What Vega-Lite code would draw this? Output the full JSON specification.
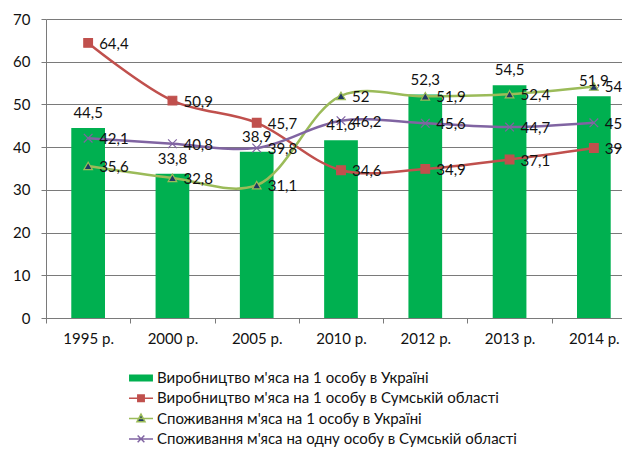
{
  "$schema": "https://vega.github.io/schema/vega-lite/v6.json",
  "autosize": "none",
  "width": 576,
  "height": 299,
  "padding": {"left": 46, "top": 19, "right": 0, "bottom": 132},
  "config": {
    "locale": {"number": {"decimal": ",", "thousands": " ", "grouping": [3], "currency": ["", ""]}},
    "view": {"stroke": null},
    "font": "Lato",
    "legend": {"rowPadding": 3.3}
  },
  "data": {
    "values": [
      {"year": "1995 р.", "series": "Виробництво м'яса на 1 особу в Україні", "value": 44.5},
      {"year": "2000 р.", "series": "Виробництво м'яса на 1 особу в Україні", "value": 33.8},
      {"year": "2005 р.", "series": "Виробництво м'яса на 1 особу в Україні", "value": 38.9},
      {"year": "2010 р.", "series": "Виробництво м'яса на 1 особу в Україні", "value": 41.6},
      {"year": "2012 р.", "series": "Виробництво м'яса на 1 особу в Україні", "value": 52.3},
      {"year": "2013 р.", "series": "Виробництво м'яса на 1 особу в Україні", "value": 54.5},
      {"year": "2014 р.", "series": "Виробництво м'яса на 1 особу в Україні", "value": 51.9},
      {"year": "1995 р.", "series": "Виробництво м'яса на 1 особу в Сумській області", "value": 64.4},
      {"year": "2000 р.", "series": "Виробництво м'яса на 1 особу в Сумській області", "value": 50.9},
      {"year": "2005 р.", "series": "Виробництво м'яса на 1 особу в Сумській області", "value": 45.7},
      {"year": "2010 р.", "series": "Виробництво м'яса на 1 особу в Сумській області", "value": 34.6},
      {"year": "2012 р.", "series": "Виробництво м'яса на 1 особу в Сумській області", "value": 34.9},
      {"year": "2013 р.", "series": "Виробництво м'яса на 1 особу в Сумській області", "value": 37.1},
      {"year": "2014 р.", "series": "Виробництво м'яса на 1 особу в Сумській області", "value": 39.8},
      {"year": "1995 р.", "series": "Споживання м'яса на 1 особу в Україні", "value": 35.6},
      {"year": "2000 р.", "series": "Споживання м'яса на 1 особу в Україні", "value": 32.8},
      {"year": "2005 р.", "series": "Споживання м'яса на 1 особу в Україні", "value": 31.1},
      {"year": "2010 р.", "series": "Споживання м'яса на 1 особу в Україні", "value": 52},
      {"year": "2012 р.", "series": "Споживання м'яса на 1 особу в Україні", "value": 51.9},
      {"year": "2013 р.", "series": "Споживання м'яса на 1 особу в Україні", "value": 52.4},
      {"year": "2014 р.", "series": "Споживання м'яса на 1 особу в Україні", "value": 54.2},
      {"year": "1995 р.", "series": "Споживання м'яса на одну особу в Сумській області", "value": 42.1},
      {"year": "2000 р.", "series": "Споживання м'яса на одну особу в Сумській області", "value": 40.8},
      {"year": "2005 р.", "series": "Споживання м'яса на одну особу в Сумській області", "value": 39.8},
      {"year": "2010 р.", "series": "Споживання м'яса на одну особу в Сумській області", "value": 46.2},
      {"year": "2012 р.", "series": "Споживання м'яса на одну особу в Сумській області", "value": 45.6},
      {"year": "2013 р.", "series": "Споживання м'яса на одну особу в Сумській області", "value": 44.7},
      {"year": "2014 р.", "series": "Споживання м'яса на одну особу в Сумській області", "value": 45.7}
    ]
  },
  "encoding": {
    "x": {
      "field": "year", "type": "nominal", "sort": null,
      "scale": {"range": [0, 590], "paddingInner": 0, "paddingOuter": 0},
      "axis": {
        "title": null, "labelAngle": 0, "labelFont": "Lato", "labelFontSize": 15, "labelColor": "#111111",
        "domainColor": "#7a7a7a", "tickColor": "#7a7a7a", "tickSize": 5, "tickBand": "extent",
        "labelPadding": 8, "grid": false
      }
    },
    "y": {
      "field": "value", "type": "quantitative",
      "scale": {"domain": [0, 70], "nice": false},
      "axis": {
        "title": null, "values": [0, 10, 20, 30, 40, 50, 60, 70],
        "labelFont": "Lato", "labelFontSize": 15, "labelColor": "#111111", "labelPadding": 11,
        "domainColor": "#7a7a7a", "tickColor": "#7a7a7a", "tickSize": 5,
        "grid": true, "gridColor": "#7a7a7a", "gridWidth": 1
      }
    }
  },
  "resolve": {"scale": {"shape": "independent", "fill": "independent", "stroke": "independent"}},
  "layer": [
    {
      "transform": [{"filter": {"field": "series", "equal": "Виробництво м'яса на 1 особу в Україні"}}],
      "mark": {"type": "bar", "color": "#00B050", "width": {"band": 0.4}}
    },
    {
      "transform": [{"filter": {"not": {"field": "series", "equal": "Виробництво м'яса на 1 особу в Україні"}}}],
      "mark": {"type": "line", "interpolate": "catmull-rom", "strokeWidth": 2.5},
      "encoding": {
        "color": {
          "field": "series", "type": "nominal",
          "scale": {
            "domain": ["Виробництво м'яса на 1 особу в Сумській області", "Споживання м'яса на 1 особу в Україні", "Споживання м'яса на одну особу в Сумській області"],
            "range": ["#C0504D", "#9BBB59", "#8064A2"]
          },
          "legend": null
        }
      }
    },
    {
      "transform": [{"filter": {"not": {"field": "series", "equal": "Виробництво м'яса на 1 особу в Україні"}}}],
      "mark": {"type": "point", "size": 75, "strokeWidth": 1.2, "opacity": 1},
      "encoding": {
        "fill": {
          "field": "series", "type": "nominal",
          "scale": {
            "domain": ["Виробництво м'яса на 1 особу в Сумській області", "Споживання м'яса на 1 особу в Україні", "Споживання м'яса на одну особу в Сумській області"],
            "range": ["#C0504D", "#1F3864", "transparent"]
          },
          "legend": null
        },
        "stroke": {
          "field": "series", "type": "nominal",
          "scale": {
            "domain": ["Виробництво м'яса на 1 особу в Сумській області", "Споживання м'яса на 1 особу в Україні", "Споживання м'яса на одну особу в Сумській області"],
            "range": ["#C0504D", "#9BBB59", "#8064A2"]
          },
          "legend": null
        },
        "shape": {
          "field": "series", "type": "nominal",
          "scale": {
            "domain": ["Виробництво м'яса на 1 особу в Сумській області", "Споживання м'яса на 1 особу в Україні", "Споживання м'яса на одну особу в Сумській області"],
            "range": ["square", "triangle-up", "M-1,-1L1,1M-1,1L1,-1"]
          },
          "legend": null
        }
      }
    },
    {
      "transform": [{"filter": "false"}],
      "mark": {"type": "point", "filled": true, "strokeWidth": 2, "opacity": 1},
      "encoding": {
        "fill": {
          "field": "series", "type": "nominal",
          "scale": {
            "domain": ["Виробництво м'яса на 1 особу в Україні", "Виробництво м'яса на 1 особу в Сумській області", "Споживання м'яса на 1 особу в Україні", "Споживання м'яса на одну особу в Сумській області"],
            "range": ["#00B050", "#C0504D", "#1F3864", "transparent"]
          },
          "legend": {
            "orient": "none", "legendX": 86, "legendY": 350, "title": null, "padding": 0,
            "symbolSize": 256, "labelFont": "Lato", "labelFontSize": 15, "labelColor": "#111111",
            "labelOffset": 7, "rowPadding": 3.3, "labelLimit": 0, "symbolOpacity": 1
          }
        },
        "stroke": {
          "field": "series", "type": "nominal",
          "scale": {
            "domain": ["Виробництво м'яса на 1 особу в Україні", "Виробництво м'яса на 1 особу в Сумській області", "Споживання м'яса на 1 особу в Україні", "Споживання м'яса на одну особу в Сумській області"],
            "range": ["#00B050", "#C0504D", "#9BBB59", "#8064A2"]
          },
          "legend": {
            "orient": "none", "legendX": 86, "legendY": 350, "title": null, "padding": 0,
            "symbolSize": 256, "labelFont": "Lato", "labelFontSize": 15, "labelColor": "#111111",
            "labelOffset": 7, "rowPadding": 3.3, "labelLimit": 0, "symbolOpacity": 1
          }
        },
        "shape": {
          "field": "series", "type": "nominal",
          "scale": {
            "domain": ["Виробництво м'яса на 1 особу в Україні", "Виробництво м'яса на 1 особу в Сумській області", "Споживання м'яса на 1 особу в Україні", "Споживання м'яса на одну особу в Сумській області"],
            "range": [
              "M-1.4,-0.33H1.4V0.33H-1.4Z",
              "M-1.5,0H1.5M-0.4,-0.4H0.4V0.4H-0.4Z",
              "M-1.5,0H1.5M0,-0.55L0.5,0.38H-0.5Z",
              "M-1.5,0H1.5M-0.42,-0.42L0.42,0.42M-0.42,0.42L0.42,-0.42"
            ]
          },
          "legend": {
            "orient": "none", "legendX": 86, "legendY": 350, "title": null, "padding": 0,
            "symbolSize": 256, "labelFont": "Lato", "labelFontSize": 15, "labelColor": "#111111",
            "labelOffset": 7, "rowPadding": 3.3, "labelLimit": 0, "symbolOpacity": 1
          }
        }
      }
    },
    {
      "transform": [{"filter": {"field": "series", "equal": "Виробництво м'яса на 1 особу в Україні"}}],
      "mark": {"type": "text", "baseline": "middle", "align": "center", "dy": -15, "font": "Lato", "fontSize": 15, "color": "#111111"},
      "encoding": {"text": {"field": "value", "type": "quantitative"}}
    },
    {
      "transform": [{"filter": {"not": {"field": "series", "equal": "Виробництво м'яса на 1 особу в Україні"}}}],
      "mark": {"type": "text", "baseline": "middle", "align": "left", "dx": 11, "dy": 1, "font": "Lato", "fontSize": 15, "color": "#111111"},
      "encoding": {"text": {"field": "value", "type": "quantitative"}}
    }
  ]
}
